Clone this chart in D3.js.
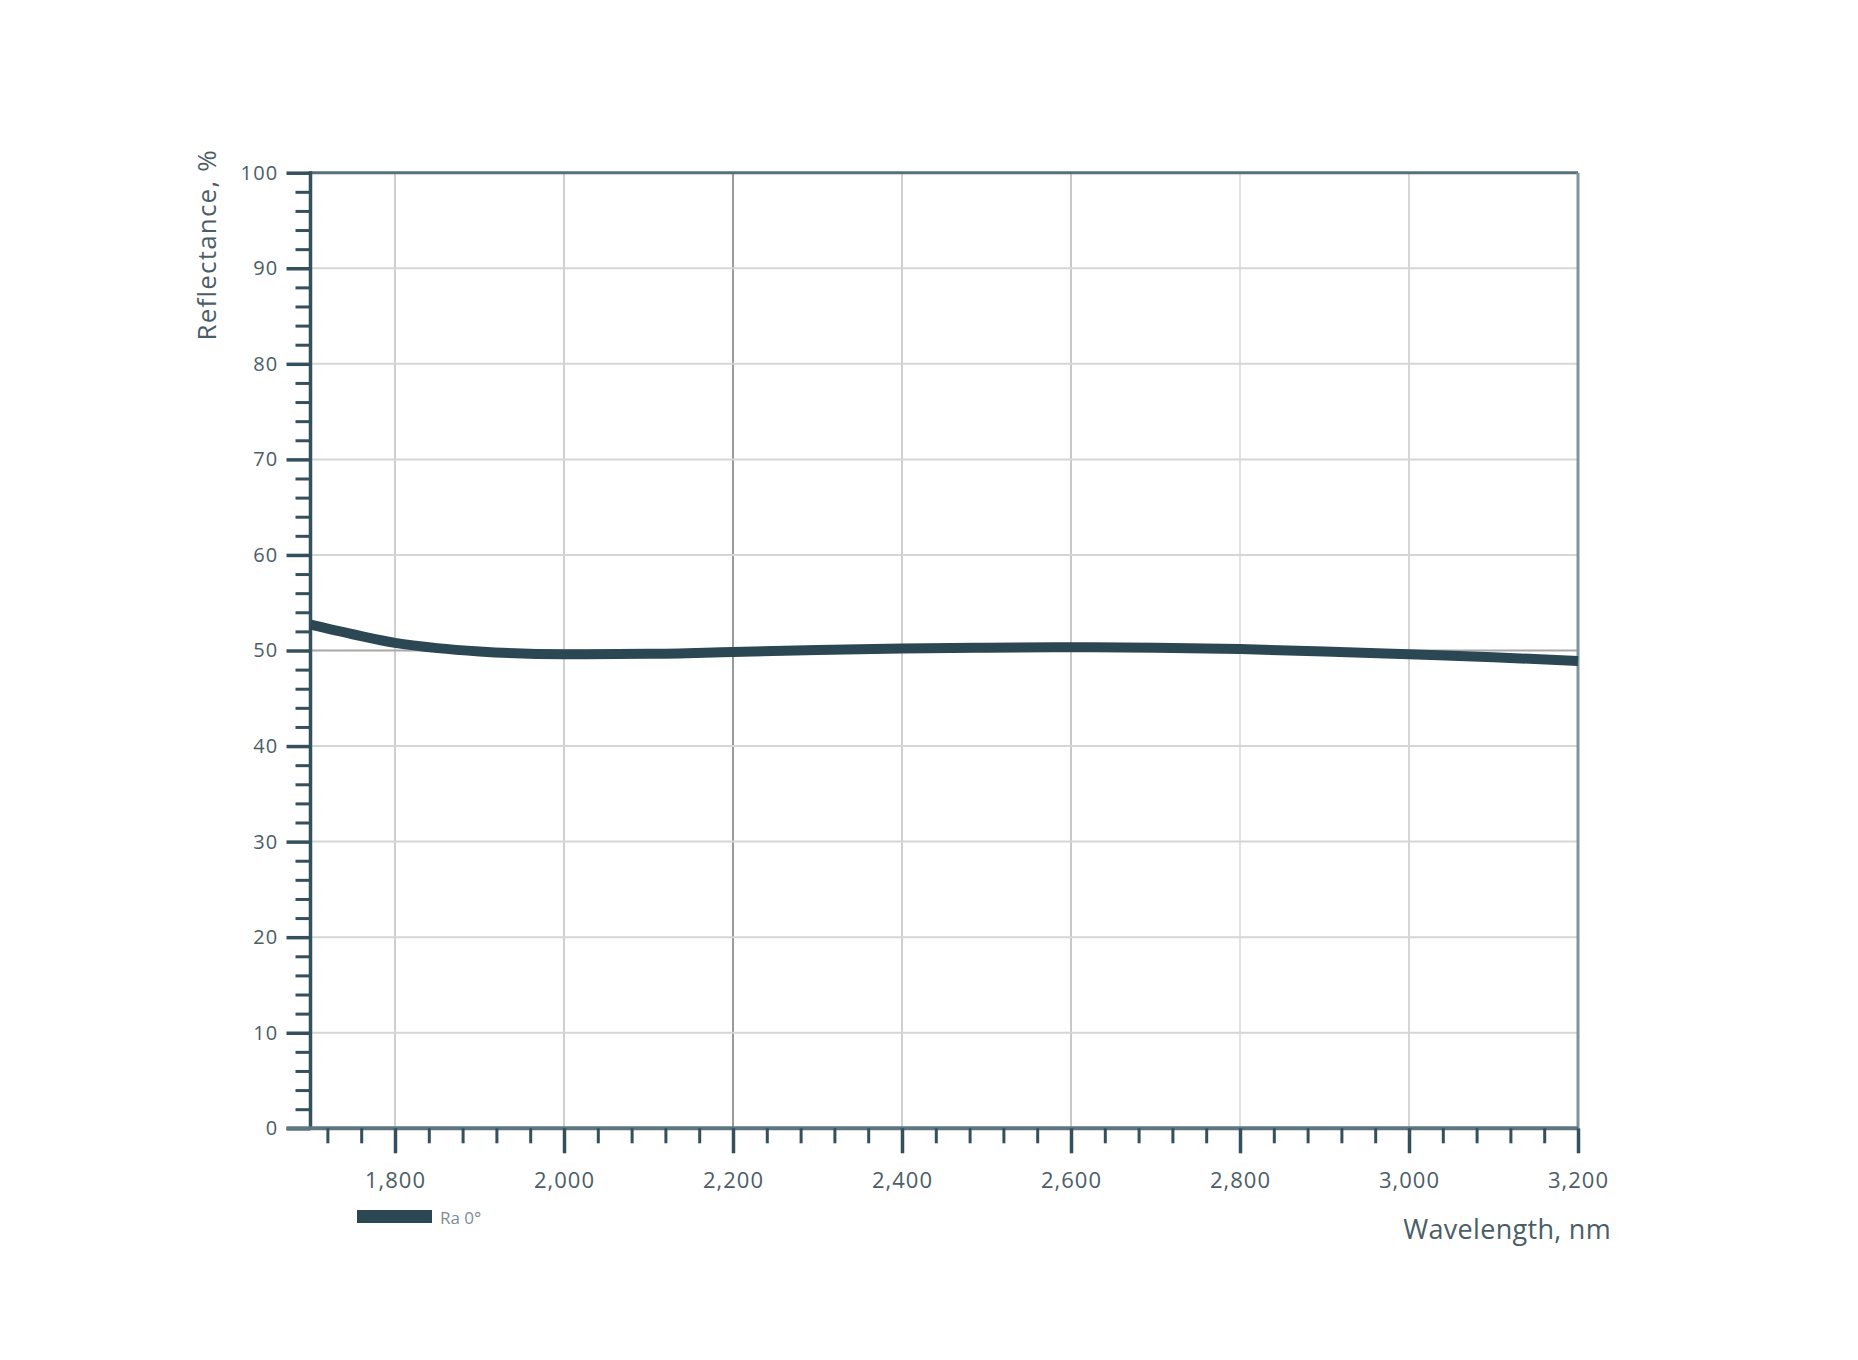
<!DOCTYPE html>
<html>
<head>
<meta charset="utf-8">
<script src="https://cdn.jsdelivr.net/npm/d3@7"></script>
<style>
  html, body { margin: 0; padding: 0; background: #ffffff; }
  svg { display: block; font-family: "Open Sans", "DejaVu Sans", sans-serif; }
</style>
</head>
<body>
<svg id="chart" width="1858" height="1360"></svg>
<script>
// ---- data ----
const wavelengths = [1700, 1750, 1800, 1850, 1900, 2000, 2100, 2200, 2300, 2400, 2500, 2600, 2700, 2800, 2900, 3000, 3100, 3200];
const reflectance = [52.7, 51.7, 50.8, 50.25, 49.9, 49.6, 49.65, 49.85, 50.05, 50.2, 50.3, 50.35, 50.3, 50.15, 49.9, 49.6, 49.3, 48.9];
const xTickValues = [1800, 2000, 2200, 2400, 2600, 2800, 3000, 3200];
const yTickValues = [0, 10, 20, 30, 40, 50, 60, 70, 80, 90, 100];
const seriesName = "Ra 0°";
const xTitle = "Wavelength, nm";
const yTitle = "Reflectance, %";

(function () {
// ---- layout ----
const svg = d3.select("#chart");
const pL = 310.5, pR = 1578, pT = 172.7, pB = 1128.3;
const x = d3.scaleLinear().domain([1700, 3200]).range([pL, pR]);
const y = d3.scaleLinear().domain([0, 100]).range([pB, pT]);

const axisColor = "#33505c";
const lineColor = "#2b4753";
const labelColor = "#4b5d66";

// gridlines vertical
const gridColorsX = {1800: "#cfcfcf", 2000: "#cfcfcf", 2200: "#9a9a9a", 2400: "#cfcfcf", 2600: "#c8c8c8", 2800: "#e2e2e2", 3000: "#d6d6d6"};
svg.append("g").selectAll("line")
  .data(xTickValues.filter(d => d < 3200))
  .join("line")
  .attr("x1", d => x(d)).attr("x2", d => x(d))
  .attr("y1", pT).attr("y2", pB)
  .attr("stroke", d => gridColorsX[d] || "#d0d0d0")
  .attr("stroke-width", 2);

// gridlines horizontal
svg.append("g").selectAll("line")
  .data(yTickValues.filter(d => d > 0 && d < 100))
  .join("line")
  .attr("x1", pL).attr("x2", pR)
  .attr("y1", d => y(d)).attr("y2", d => y(d))
  .attr("stroke", d => d === 50 ? "#a8a8a8" : "#d6d6d6")
  .attr("stroke-width", 2);

// top border and right border
svg.append("line").attr("x1", pL).attr("x2", pR).attr("y1", pT).attr("y2", pT)
  .attr("stroke", "#55707b").attr("stroke-width", 3);
svg.append("line").attr("x1", pR).attr("x2", pR).attr("y1", pT).attr("y2", pB)
  .attr("stroke", "#7f949d").attr("stroke-width", 3);

// y axis
const yMinor = d3.range(0, 101, 2);
const yAxisG = svg.append("g").attr("transform", `translate(${pL},0)`);
yAxisG.append("g").call(d3.axisLeft(y).tickValues(yMinor.filter(d => d % 10 !== 0)).tickSize(15).tickFormat(""))
  .call(g => g.select(".domain").remove())
  .call(g => g.selectAll("line").attr("stroke", axisColor).attr("stroke-width", 3));
yAxisG.append("g").call(d3.axisLeft(y).tickValues(yTickValues).tickSize(24).tickPadding(8).tickFormat(d3.format("d")))
  .call(g => g.select(".domain").remove())
  .call(g => g.selectAll("line").attr("stroke", axisColor).attr("stroke-width", 3.5))
  .call(g => g.selectAll("text").attr("fill", labelColor).attr("font-size", 20)
    .attr("letter-spacing", 1.2).attr("font-family", "'Open Sans', sans-serif"));
yAxisG.append("line").attr("x1", 0).attr("x2", 0).attr("y1", pT - 1.5).attr("y2", pB)
  .attr("stroke", axisColor).attr("stroke-width", 3.5);

// x axis
const xMinor = d3.range(1720, 3201, 40);
const xAxisG = svg.append("g").attr("transform", `translate(0,${pB})`);
xAxisG.append("line").attr("x1", pL - 24).attr("x2", pR).attr("y1", 0).attr("y2", 0)
  .attr("stroke", "#5e7682").attr("stroke-width", 4);
xAxisG.append("g").call(d3.axisBottom(x).tickValues(xMinor.filter(d => d % 200 !== 0)).tickSize(15).tickFormat(""))
  .call(g => g.select(".domain").remove())
  .call(g => g.selectAll("line").attr("stroke", axisColor).attr("stroke-width", 3));
xAxisG.append("g").call(d3.axisBottom(x).tickValues(xTickValues).tickSize(25).tickPadding(19).tickFormat(d3.format(",")))
  .call(g => g.select(".domain").remove())
  .call(g => g.selectAll("line").attr("stroke", axisColor).attr("stroke-width", 3.5))
  .call(g => g.selectAll("text").attr("fill", labelColor).attr("font-size", 22)
    .attr("letter-spacing", 1).attr("font-family", "'Open Sans', sans-serif"));

// the curve
const line = d3.line().x((d, i) => x(wavelengths[i])).y(d => y(d)).curve(d3.curveMonotoneX);
svg.append("path").datum(reflectance)
  .attr("d", line)
  .attr("fill", "none")
  .attr("stroke", lineColor)
  .attr("stroke-width", 10)
  .attr("stroke-linecap", "butt");

// axis titles
svg.append("text")
  .attr("transform", `translate(216,149) rotate(-90)`)
  .attr("text-anchor", "end")
  .attr("fill", labelColor)
  .attr("font-size", 26)
  .attr("letter-spacing", 1.2)
  .text(yTitle);

svg.append("text")
  .attr("x", 1611).attr("y", 1239)
  .attr("text-anchor", "end")
  .attr("fill", labelColor)
  .attr("font-size", 27)
  .attr("letter-spacing", 0.3)
  .text(xTitle);

// legend
svg.append("rect").attr("x", 357).attr("y", 1210).attr("width", 75).attr("height", 13)
  .attr("fill", lineColor);
svg.append("text").attr("x", 440).attr("y", 1224)
  .attr("fill", "#7d8d95").attr("font-size", 17)
  .text(seriesName);
})();
</script>
</body>
</html>
